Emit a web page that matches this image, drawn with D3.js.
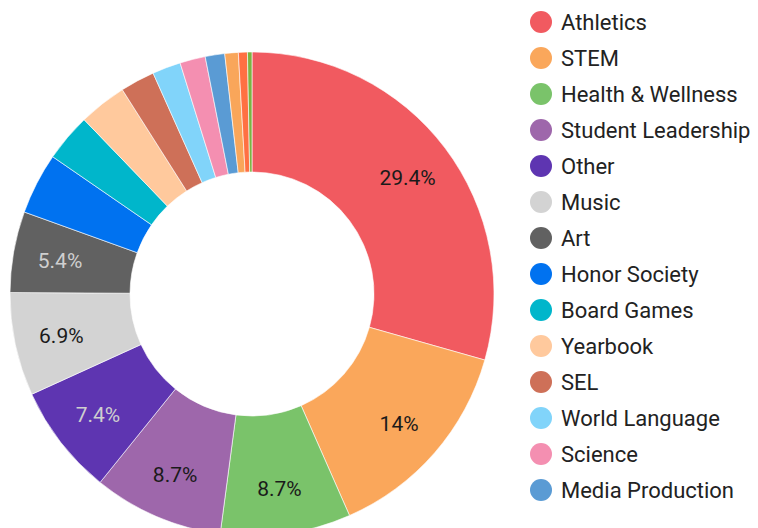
<!DOCTYPE html>
<html>
<head>
<meta charset="utf-8">
<script src="https://cdn.jsdelivr.net/npm/d3@7"></script>
<style>
  html, body { margin: 0; padding: 0; background: #fff; }
  svg { display: block; font-family: Roboto, "Noto Sans", sans-serif; }
</style>
</head>
<body>
<svg id="chart" width="758" height="528"></svg>
<script>
// Categories in slice order (clockwise from 12 o'clock)
const categories = [
  "Athletics", "STEM", "Health & Wellness", "Student Leadership", "Other",
  "Music", "Art", "Honor Society", "Board Games", "Yearbook", "SEL",
  "World Language", "Science", "Media Production",
  "Category 15", "Category 16", "Category 17"
];
// Share of each category (percent)
const values = [29.4, 14.0, 8.7, 8.7, 7.4, 6.9, 5.4, 4.1, 3.2, 3.2, 2.3, 1.9, 1.7, 1.3, 0.9, 0.6, 0.3];
const colors = [
  "#f15a60", "#faa75b", "#7ac36a", "#9e67ab", "#5e35b1", "#d3d3d3", "#616161",
  "#0072f0", "#00b6cb", "#ffc99d", "#ce7058", "#81d4fa", "#f48fb1", "#5a9bd4",
  "#f9a65a", "#ff7043", "#7cb342"
];
// Only the first 14 entries fit in the legend
const legendCount = 14;
const darkSlices = ["Other", "Art"];

const svg = d3.select("#chart");
const cx = 252, cy = 294, outerR = 242, innerR = 122, labelR = 195;

const data = categories.map((c, i) => ({ name: c, value: values[i], color: colors[i] }));
const total = d3.sum(values);

const pie = d3.pie().sort(null).value(d => d.value);
const arcs = pie(data);
const arc = d3.arc().innerRadius(innerR).outerRadius(outerR);
const labelArc = d3.arc().innerRadius(labelR).outerRadius(labelR);

const g = svg.append("g").attr("transform", `translate(${cx},${cy})`);

g.selectAll("path.slice")
  .data(arcs)
  .join("path")
  .attr("class", "slice")
  .attr("d", arc)
  .attr("fill", d => d.data.color)
  .attr("stroke", "#ffffff")
  .attr("stroke-width", 0.6);

const fmt = v => (+(v / total * 100).toFixed(1)) + "%";

g.selectAll("text.lbl")
  .data(arcs.filter(d => d.data.value / total >= 0.05))
  .join("text")
  .attr("class", "lbl")
  .attr("transform", d => { const [x, y] = labelArc.centroid(d); return `translate(${x},${y + 1})`; })
  .attr("text-anchor", "middle")
  .attr("dy", "0.36em")
  .attr("font-size", 21)
  .attr("fill", d => darkSlices.includes(d.data.name) ? "#cfcfcf" : "#1a1a1a")
  .text(d => fmt(d.data.value));

// Legend
const legendData = data.slice(0, legendCount);
const ly = d3.scalePoint().domain(legendData.map(d => d.name)).range([22, 22 + 36 * (legendCount - 1)]);
const lg = svg.append("g");
const item = lg.selectAll("g.item").data(legendData).join("g")
  .attr("class", "item")
  .attr("transform", d => `translate(541,${ly(d.name)})`);
item.append("circle").attr("r", 11).attr("fill", d => d.color);
item.append("text")
  .attr("x", 20)
  .attr("dy", "0.36em")
  .attr("font-size", 22)
  .attr("fill", "#222222")
  .text(d => d.name);
</script>
</body>
</html>
